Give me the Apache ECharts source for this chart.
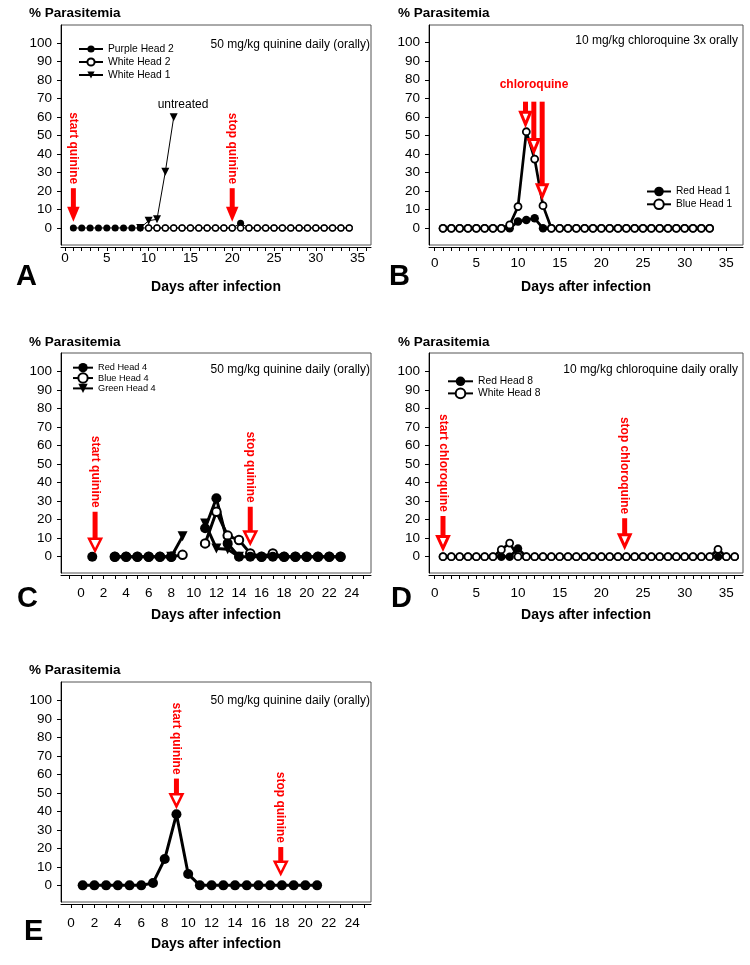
<!DOCTYPE html>
<html>
<head>
<meta charset="utf-8">
<script src="https://cdn.jsdelivr.net/npm/echarts@6/dist/echarts.min.js"></script>
<style>
  html, body { margin: 0; padding: 0; background: #fff; }
  #chart { width: 750px; height: 965px; }
</style>
</head>
<body>
<div id="chart"></div>
<script>
// tick labels
const yTickLabels = [0, 10, 20, 30, 40, 50, 60, 70, 80, 90, 100];
const xTickLabels35 = [0, 5, 10, 15, 20, 25, 30, 35];
const xTickLabels24 = [0, 2, 4, 6, 8, 10, 12, 14, 16, 18, 20, 22, 24];

// A: 50 mg/kg quinine daily
const daysA = [1, 2, 3, 4, 5, 6, 7, 8, 9, 10, 11, 12, 13, 14, 15, 16, 17, 18, 19, 20, 21, 22, 23, 24, 25, 26, 27, 28, 29, 30, 31, 32, 33, 34];
const purpleHead2 = [0, 0, 0, 0, 0, 0, 0, 0, 0, 0, 0, 0, 0, 0, 0, 0, 0, 0, 0, 0, 2.5, 0, 0, 0, 0, 0, 0, 0, 0, 0, 0, 0, 0, 0];
const whiteHead2 = [null, null, null, null, null, null, null, null, null, 0, 0, 0, 0, 0, 0, 0, 0, 0, 0, 0, 0, 0, 0, 0, 0, 0, 0, 0, 0, 0, 0, 0, 0, 0];
const whiteHead1 = [null, null, null, null, null, null, null, null, 0, 3.9, 4.7, 30.4, 59.8, null, null, null, null, null, null, null, null, null, null, null, null, null, null, null, null, null, null, null, null, null];

// B: 10 mg/kg chloroquine 3x
const daysB = [1, 2, 3, 4, 5, 6, 7, 8, 9, 10, 11, 12, 13, 14, 15, 16, 17, 18, 19, 20, 21, 22, 23, 24, 25, 26, 27, 28, 29, 30, 31, 32, 33];
const redHead1 = [0, 0, 0, 0, 0, 0, 0, 0, 0, 3.6, 4.5, 5.4, 0, 0, 0, 0, 0, 0, 0, 0, 0, 0, 0, 0, 0, 0, 0, 0, 0, 0, 0, 0, 0];
const blueHead1 = [0, 0, 0, 0, 0, 0, 0, 0, 1.8, 11.7, 52, 37.3, 12.2, 0, 0, 0, 0, 0, 0, 0, 0, 0, 0, 0, 0, 0, 0, 0, 0, 0, 0, 0, 0];

// C: 50 mg/kg quinine daily
const daysC = [1, 2, 3, 4, 5, 6, 7, 8, 9, 10, 11, 12, 13, 14, 15, 16, 17, 18, 19, 20, 21, 22, 23];
const redHead4 = [0, null, 0, 0, 0, 0, 0, 0, null, null, 15.4, 31.6, 7.2, 0, 0, 0, 0, 0, 0, 0, 0, 0, 0];
const blueHead4 = [null, null, 0, 0, 0, 0, 0, 0, 1, null, 7.2, 24.3, 11.4, 9.0, 1.8, 0, 1.8, 0, 0, 0, 0, 0, 0];
const greenHead4 = [null, null, null, null, null, null, null, 0, 11, null, 18, 4.5, 4, 0, null, null, null, null, null, null, null, null, null];

// D: 10 mg/kg chloroquine daily
const daysD = [1, 2, 3, 4, 5, 6, 7, 8, 9, 10, 11, 12, 13, 14, 15, 16, 17, 18, 19, 20, 21, 22, 23, 24, 25, 26, 27, 28, 29, 30, 31, 32, 33, 34, 35, 36];
const redHead8 = [0, 0, 0, 0, 0, 0, 0, 0, 0, 4.5, 0, 0, 0, 0, 0, 0, 0, 0, 0, 0, 0, 0, 0, 0, 0, 0, 0, 0, 0, 0, 0, 0, 0, 0, 0, 0];
const whiteHead8 = [0, 0, 0, 0, 0, 0, 0, 3.8, 7.4, 0, 0, 0, 0, 0, 0, 0, 0, 0, 0, 0, 0, 0, 0, 0, 0, 0, 0, 0, 0, 0, 0, 0, 0, 4, 0, 0];

// E: 50 mg/kg quinine daily, started late
const daysE = [1, 2, 3, 4, 5, 6, 7, 8, 9, 10, 11, 12, 13, 14, 15, 16, 17, 18, 19, 20, 21];
const headE = [0, 0, 0, 0, 0, 0, 1.3, 14.2, 38.4, 6.1, 0, 0, 0, 0, 0, 0, 0, 0, 0, 0, 0];

// treatment arrows: [day, tip value, shaft top value, label]
const arrowsA = [[1, 3.4, 21.5, 'start quinine'], [20, 3.4, 21.5, 'stop quinine']];
const arrowsB = [[10.9, 56, 68.2, ''], [11.9, 41.3, 68.2, ''], [12.9, 17, 68.2, '']];
const arrowsC = [[1.25, 3.2, 24.3, 'start quinine'], [15, 7.2, 27, 'stop quinine']];
const arrowsD = [[1, 4.5, 22, 'start chloroquine'], [22.8, 5.4, 20.8, 'stop chloroquine']];
const arrowsE = [[9, 42.7, 57.7, 'start quinine'], [17.9, 6.3, 20.7, 'stop quinine']];

const FONT = '"Liberation Sans", Arial, sans-serif';
const RED = '#ff0000';

const range = (a, b) => Array.from({ length: b - a + 1 }, (_, i) => a + i);
const pairs = (days, vals) => days.map((d, i) => [d, vals[i]]);

const panels = [
  { left: 61, top: 25, width: 310, xMin: -0.48, xMax: 36.6, yMin: -9.2, yMax: 109.7, labels: xTickLabels35, ticks: range(0, 36), margin: 4 },
  { left: 429, top: 25, width: 314, xMin: -0.68, xMax: 37.0, yMin: -9.0, yMax: 109.5, labels: xTickLabels35, ticks: range(0, 35), margin: 9 },
  { left: 61, top: 353, width: 310, xMin: -1.77, xMax: 25.7, yMin: -8.8, yMax: 110.1, labels: xTickLabels24, ticks: range(-1, 25), margin: 11 },
  { left: 429, top: 353, width: 314, xMin: -0.68, xMax: 37.0, yMin: -8.8, yMax: 110.1, labels: xTickLabels35, ticks: range(0, 36), margin: 11 },
  { left: 61, top: 682, width: 310, xMin: -0.85, xMax: 25.6, yMin: -9.0, yMax: 109.9, labels: xTickLabels24, ticks: range(0, 25), margin: 12 }
];

function lineSeries(idx, name, days, vals, o) {
  return {
    type: 'line', name: name, xAxisIndex: idx, yAxisIndex: idx,
    data: pairs(days, vals),
    symbol: o.symbol || 'circle',
    symbolRotate: o.rotate || 0,
    symbolSize: o.size,
    lineStyle: { color: '#000', width: o.lw },
    itemStyle: o.open
      ? { color: '#fff', borderColor: '#000', borderWidth: o.bw }
      : { color: '#000', borderColor: '#000', borderWidth: 0 },
    silent: true, z: 3
  };
}

function arrowSeries(idx, arrows, look) {
  return {
    type: 'custom', xAxisIndex: idx, yAxisIndex: idx, silent: true, z: 6, clip: false,
    data: arrows.map(a => [a[0], a[1], a[2]]),
    renderItem(params, api) {
      const tip = api.coord([api.value(0), api.value(1)]);
      const top = api.coord([api.value(0), api.value(2)]);
      const x = tip[0];
      const headTop = tip[1] - look.headH;
      const label = arrows[params.dataIndex][3];
      const children = [
        { type: 'rect', shape: { x: x - look.shaft / 2, y: top[1], width: look.shaft, height: headTop - top[1] + 1 }, style: { fill: RED } },
        {
          type: 'polygon',
          shape: { points: [[x - look.headW / 2, headTop], [x + look.headW / 2, headTop], [x, tip[1]]] },
          style: look.hollow ? { fill: '#fff', stroke: RED, lineWidth: look.stroke, lineJoin: 'miter' } : { fill: RED }
        }
      ];
      if (label) {
        children.push({
          type: 'text', x: x, y: top[1] - 4, rotation: -Math.PI / 2,
          style: { text: label, font: 'bold 12px ' + FONT, fill: RED, align: 'right', verticalAlign: 'middle' }
        });
      }
      return { type: 'group', children: children };
    }
  };
}

function txt(x, y, text, size, opts) {
  opts = opts || {};
  return {
    type: 'text', x: x, y: y, silent: true,
    style: {
      text: text, font: (opts.bold ? 'bold ' : '') + size + 'px ' + FONT,
      fill: opts.color || '#000', align: opts.align || 'left', verticalAlign: 'middle'
    }
  };
}

const chart = echarts.init(document.getElementById('chart'));

chart.setOption({
  animation: false,
  backgroundColor: '#fff',
  grid: panels.map(p => ({
    left: p.left, top: p.top, width: p.width, height: 220,
    show: true, borderColor: '#555', borderWidth: 1, backgroundColor: 'transparent'
  })),
  xAxis: panels.map((p, i) => ({
    type: 'value', gridIndex: i, min: p.xMin, max: p.xMax, offset: 2,
    name: 'Days after infection', nameLocation: 'middle', nameGap: 33,
    nameTextStyle: { fontFamily: FONT, fontWeight: 'bold', fontSize: 14, color: '#000' },
    axisLine: { show: true, onZero: false, lineStyle: { color: '#000', width: 1 } },
    axisTick: { show: true, customValues: p.ticks, length: 4, lineStyle: { color: '#000' } },
    axisLabel: { customValues: p.labels, margin: p.margin, fontFamily: FONT, fontSize: 13.5, color: '#000' },
    splitLine: { show: false }
  })),
  yAxis: panels.map((p, i) => ({
    type: 'value', gridIndex: i, min: p.yMin, max: p.yMax,
    axisLine: { show: true, onZero: false, lineStyle: { color: '#000', width: 1 } },
    axisTick: { show: true, customValues: yTickLabels, length: 4, lineStyle: { color: '#000' } },
    axisLabel: { customValues: yTickLabels, margin: 9, fontFamily: FONT, fontSize: 13.5, color: '#000' },
    splitLine: { show: false }
  })),
  legend: [
    { data: ['Purple Head 2', 'White Head 2', 'White Head 1'], left: 78, top: 44, itemWidth: 24, itemHeight: 9, itemGap: 3, fontSize: 10.3 },
    { data: ['Red Head 1', 'Blue Head 1'], left: 646, top: 186.5, itemWidth: 24, itemHeight: 12, itemGap: 2, fontSize: 10.2 },
    { data: ['Red Head 4', 'Blue Head 4', 'Green Head 4'], left: 72, top: 363, itemWidth: 20, itemHeight: 11.7, itemGap: 0, fontSize: 9.2 },
    { data: ['Red Head 8', 'White Head 8'], left: 447, top: 376.3, itemWidth: 25, itemHeight: 12, itemGap: 1.3, fontSize: 10.3 }
  ].map(l => ({
    data: l.data, left: l.left, top: l.top, orient: 'vertical', padding: 0,
    itemWidth: l.itemWidth, itemHeight: l.itemHeight, itemGap: l.itemGap, selectedMode: false,
    textStyle: { fontFamily: FONT, fontSize: l.fontSize, color: '#000' }
  })),
  series: [
    lineSeries(0, 'White Head 1', daysA, whiteHead1, { symbol: 'triangle', rotate: 180, size: 8, lw: 1 }),
    lineSeries(0, 'Purple Head 2', daysA, purpleHead2, { size: 7, lw: 1 }),
    lineSeries(0, 'White Head 2', daysA, whiteHead2, { size: 6, lw: 1, open: true, bw: 1.3 }),
    arrowSeries(0, arrowsA, { headH: 15, headW: 12.5, shaft: 5, hollow: false }),

    lineSeries(1, 'Red Head 1', daysB, redHead1, { size: 8.5, lw: 2.7 }),
    lineSeries(1, 'Blue Head 1', daysB, blueHead1, { size: 7, lw: 2.7, open: true, bw: 1.8 }),
    arrowSeries(1, arrowsB, { headH: 12, headW: 10, shaft: 5, hollow: true, stroke: 3 }),

    lineSeries(2, 'Blue Head 4', daysC, blueHead4, { size: 8.5, lw: 3, open: true, bw: 2 }),
    lineSeries(2, 'Green Head 4', daysC, greenHead4, { symbol: 'triangle', rotate: 180, size: 10, lw: 3 }),
    lineSeries(2, 'Red Head 4', daysC, redHead4, { size: 10, lw: 3 }),
    arrowSeries(2, arrowsC, { headH: 12, headW: 12, shaft: 5, hollow: true, stroke: 2.5 }),

    lineSeries(3, 'Red Head 8', daysD, redHead8, { size: 8.5, lw: 2.7 }),
    lineSeries(3, 'White Head 8', daysD, whiteHead8, { size: 7, lw: 2.7, open: true, bw: 1.8 }),
    arrowSeries(3, arrowsD, { headH: 12, headW: 11, shaft: 5, hollow: true, stroke: 3 }),

    lineSeries(4, 'Head E', daysE, headE, { size: 10, lw: 3 }),
    arrowSeries(4, arrowsE, { headH: 12, headW: 12, shaft: 5, hollow: true, stroke: 2.5 })
  ],
  graphic: [
    txt(29, 13, '% Parasitemia', 13.5, { bold: true }),
    txt(398, 13, '% Parasitemia', 13.5, { bold: true }),
    txt(29, 342, '% Parasitemia', 13.5, { bold: true }),
    txt(398, 342, '% Parasitemia', 13.5, { bold: true }),
    txt(29, 670, '% Parasitemia', 13.5, { bold: true }),

    txt(16, 277, 'A', 29, { bold: true }),
    txt(389, 277, 'B', 29, { bold: true }),
    txt(17, 599, 'C', 29, { bold: true }),
    txt(391, 599, 'D', 29, { bold: true }),
    txt(24, 932, 'E', 29, { bold: true }),

    txt(370, 45, '50 mg/kg quinine daily (orally)', 12, { align: 'right' }),
    txt(738, 41, '10 mg/kg chloroquine 3x orally', 12, { align: 'right' }),
    txt(370, 370, '50 mg/kg quinine daily (orally)', 12, { align: 'right' }),
    txt(738, 370, '10 mg/kg chloroquine daily orally', 12, { align: 'right' }),
    txt(370, 701, '50 mg/kg quinine daily (orally)', 12, { align: 'right' }),

    txt(183, 105, 'untreated', 12, { align: 'center' }),
    txt(534, 85, 'chloroquine', 12, { bold: true, color: RED, align: 'center' })
  ]
});
</script>
</body>
</html>
